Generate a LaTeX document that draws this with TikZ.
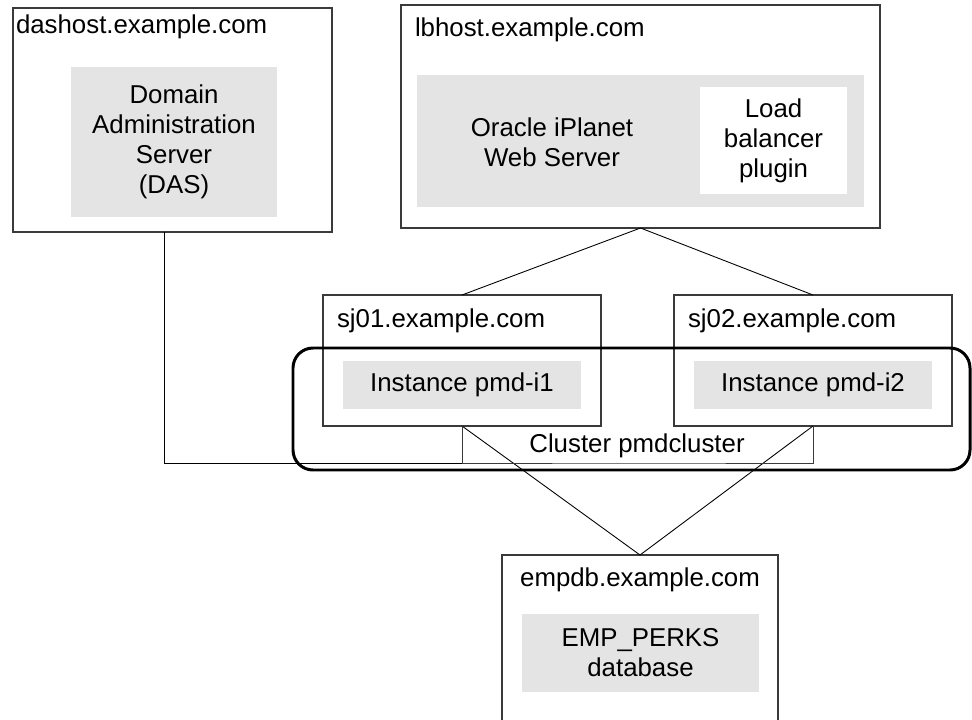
\documentclass[tikz,border=0pt]{standalone}
\usepackage{fontspec}
\setmainfont{Liberation Sans}
\usetikzlibrary{calc}
\definecolor{boxgray}{HTML}{E4E4E4}
\definecolor{edge}{HTML}{3A3A3A}
\newcommand\pxbox[6][]{%
  \node[#1, minimum width={(#5-#3)*0.02cm}, minimum height={(#6-#4)*0.02cm}]
    (#2) at ({(#3+#5)/2},{(#4+#6)/2}) {};}
\begin{document}
\begin{tikzpicture}[x=0.02cm,y=-0.02cm,
  every node/.style={inner sep=0pt, outer sep=0pt},
  hostbox/.style={draw=edge, line width=0.6pt, fill=white},
  swbox/.style={fill=boxgray},
  plugbox/.style={fill=white},
  txt/.style={font=\fontsize{14.7}{17}\selectfont, align=center},
  conn/.style={draw=black, line width=0.5pt},
  clusterbox/.style={draw=black, line width=1.7pt, rounded corners=0.4cm}]
\clip (0,0) rectangle (972,719);
\useasboundingbox (0,0) rectangle (972,719);
% hosts
\pxbox[hostbox]{dash}{13}{8}{332}{232}
\pxbox[swbox]{das}{71}{67}{277}{217}
\pxbox[hostbox]{lb}{401}{5}{880}{228}
\pxbox[swbox]{ws}{417}{75}{864}{207}
\pxbox[plugbox]{plug}{700}{87}{847}{194}
\pxbox[hostbox]{s1}{323}{295}{601}{426}
\pxbox[swbox]{i1}{343}{361}{581}{409}
\pxbox[hostbox]{s2}{674}{295}{952}{426}
\pxbox[swbox]{i2}{694}{361}{932}{409}
\pxbox[hostbox]{db}{502}{555}{778}{740}
\pxbox[swbox]{perks}{522}{614}{759}{692}
% texts
\node[txt, anchor=west] (tdash) at (16,27) {dashost.example.com};
\node[txt] (tdas) at (das.center) {Domain\\Administration\\Server\\(DAS)};
\node[txt, anchor=west] (tlb) at (415,30) {lbhost.example.com};
\node[txt] (tws) at (552,142) {Oracle iPlanet\\Web Server};
\node[txt] (tplug) at (plug.center) {Load\\balancer\\plugin};
\node[txt, anchor=west] (ts1) at (337,321) {sj01.example.com};
\node[txt] (ti1) at (i1.center) {Instance pmd-i1};
\node[txt, anchor=west] (ts2) at (688,321) {sj02.example.com};
\node[txt] (ti2) at (i2.center) {Instance pmd-i2};
\node[txt] (tclu) at (637,446) {Cluster pmdcluster};
\node[txt] (tdb) at (640,580) {empdb.example.com};
\node[txt] (tperks) at (perks.center) {EMP\_PERKS\\database};
% connectors
\coordinate (cb) at (640,463);
\draw[conn] (lb.south) -- (s1.north);
\draw[conn] (lb.south) -- (s2.north);
\draw[conn] (s1.south) -- (db.north);
\draw[conn] (s2.south) -- (db.north);
\draw[conn, draw=edge] (s1.south) |- (cb) -| (s2.south);
\draw[conn] ($(dash.south)+(-8.5,0)$) |- (s1.south |- cb);
% cluster
\pxbox[clusterbox]{cluster}{293}{348}{970}{470}
\end{tikzpicture}
\end{document}
